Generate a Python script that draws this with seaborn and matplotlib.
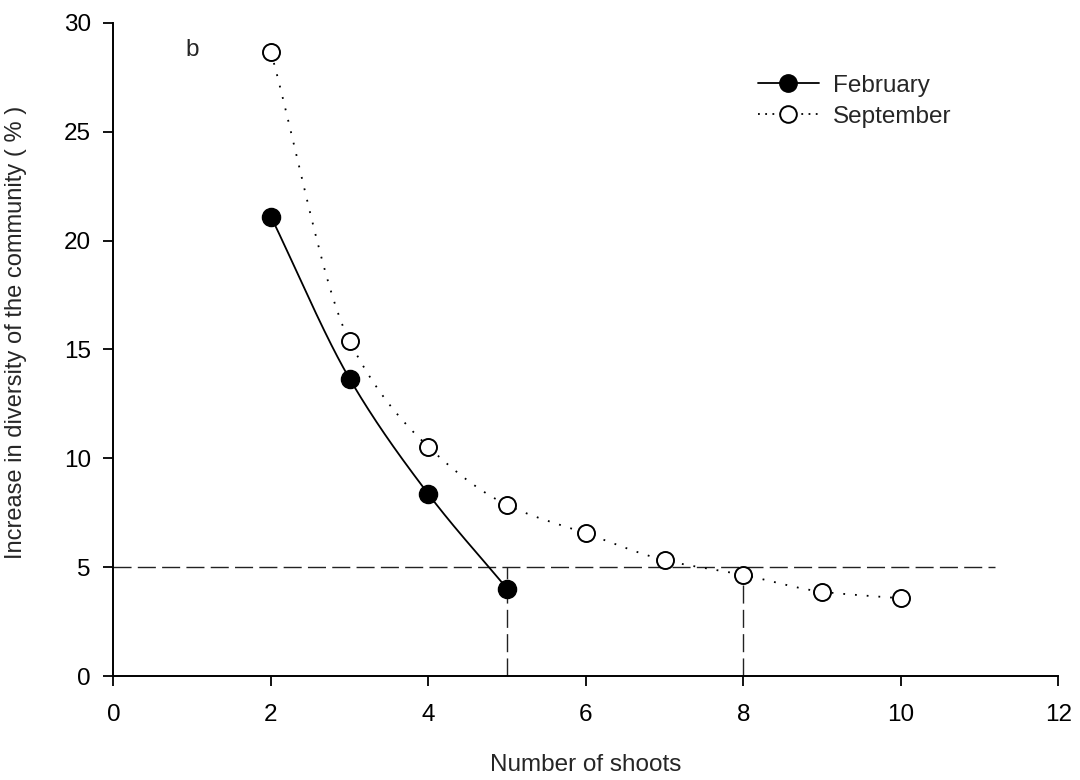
import numpy as np
import pandas as pd
import matplotlib
matplotlib.use("Agg")
import matplotlib.pyplot as plt
from matplotlib.lines import Line2D
import seaborn as sns

# ---- data ----
feb_shoots = [2, 3, 4, 5]
feb_increase = [21.1, 13.65, 8.36, 4.02]
sep_shoots = [2, 3, 4, 5, 6, 7, 8, 9, 10]
sep_increase = [28.67, 15.37, 10.53, 7.86, 6.56, 5.33, 4.65, 3.88, 3.58]
threshold = 5
threshold_x = [5, 8]
x_ticks = [0, 2, 4, 6, 8, 10, 12]
y_ticks = [0, 5, 10, 15, 20, 25, 30]
series_names = ["February", "September"]


def pchip(x, y, n=200):
    """Monotone cubic (PCHIP) curve through the points, for drawing a smooth line."""
    x = np.asarray(x, float)
    y = np.asarray(y, float)
    h = np.diff(x)
    d = np.diff(y) / h
    m = np.zeros_like(y)
    for k in range(1, len(x) - 1):
        if d[k - 1] * d[k] > 0:
            w1 = 2 * h[k] + h[k - 1]
            w2 = h[k] + 2 * h[k - 1]
            m[k] = (w1 + w2) / (w1 / d[k - 1] + w2 / d[k])
    m[0] = d[0]
    m[-1] = d[-1]
    xs = np.linspace(x[0], x[-1], n)
    idx = np.clip(np.searchsorted(x, xs) - 1, 0, len(x) - 2)
    t = (xs - x[idx]) / h[idx]
    h00 = 2 * t**3 - 3 * t**2 + 1
    h10 = t**3 - 2 * t**2 + t
    h01 = -2 * t**3 + 3 * t**2
    h11 = t**3 - t**2
    ys = h00 * y[idx] + h10 * h[idx] * m[idx] + h01 * y[idx + 1] + h11 * h[idx] * m[idx + 1]
    return xs, ys


sns.set_theme(style="ticks")
plt.rcParams["font.family"] = ["Liberation Sans", "DejaVu Sans"]

FS = 17.5

fig = plt.figure(figsize=(10.8, 7.8), dpi=100)
ax = fig.add_axes([0.105, 0.133, 0.875, 0.838])

feb_df = pd.DataFrame({"x": feb_shoots, "y": feb_increase})
sep_df = pd.DataFrame({"x": sep_shoots, "y": sep_increase})
fx, fy = pchip(feb_shoots, feb_increase)
sx, sy = pchip(sep_shoots, sep_increase)

# threshold reference lines
dash = (0, (13, 4.5))
ax.plot([0, 11.2], [threshold, threshold], color="#222222", lw=1.0, linestyle=dash, zorder=1)
for xv in threshold_x:
    ax.plot([xv, xv], [0, threshold], color="#222222", lw=1.0, linestyle=dash, zorder=1)

sns.lineplot(x=fx, y=fy, ax=ax, color="black", lw=1.3, sort=False, zorder=2)
sns.lineplot(x=sx, y=sy, ax=ax, color="black", lw=1.3, sort=False, zorder=2)
ax.lines[-1].set_linestyle((0, (1.0, 5.5)))

sns.scatterplot(data=feb_df, x="x", y="y", ax=ax, color="black", s=170,
                edgecolor="black", linewidth=1.0, zorder=3)
sns.scatterplot(data=sep_df, x="x", y="y", ax=ax, facecolor="white", s=150,
                edgecolor="black", linewidth=1.4, zorder=3)

ax.set_xlim(0, 12)
ax.set_ylim(0, 30)
ax.set_xticks(x_ticks)
ax.set_yticks(y_ticks)
ax.tick_params(direction="out", length=7.2, width=1.3, labelsize=FS, colors="black")
ax.tick_params(axis="y", pad=9)
ax.tick_params(axis="x", pad=13)
for s in ["top", "right"]:
    ax.spines[s].set_visible(False)
for s in ["left", "bottom"]:
    ax.spines[s].set_linewidth(1.4)
    ax.spines[s].set_color("black")

ax.set_xlabel("Number of shoots", fontsize=FS, labelpad=20)
ax.set_ylabel("Increase in diversity of the community ( % )", fontsize=17)
ax.yaxis.set_label_coords(-0.0915, 0.526)

ax.text(1.0, 28.75, "b", fontsize=FS, ha="center", va="center")

handles = [
    Line2D([], [], color="black", lw=1.3, marker="o", markersize=12.5,
           markerfacecolor="black", markeredgecolor="black"),
    Line2D([], [], color="black", lw=1.3, linestyle=(0, (1.0, 3.0)), marker="o", markersize=12,
           markerfacecolor="white", markeredgecolor="black", markeredgewidth=1.4),
]
ax.legend(handles, series_names, loc="upper left", bbox_to_anchor=(0.682, 0.92),
          frameon=False, fontsize=FS, handlelength=2.5, handletextpad=0.6,
          labelspacing=0.36, borderaxespad=0, borderpad=0)

fig.savefig("out.png", dpi=100)
